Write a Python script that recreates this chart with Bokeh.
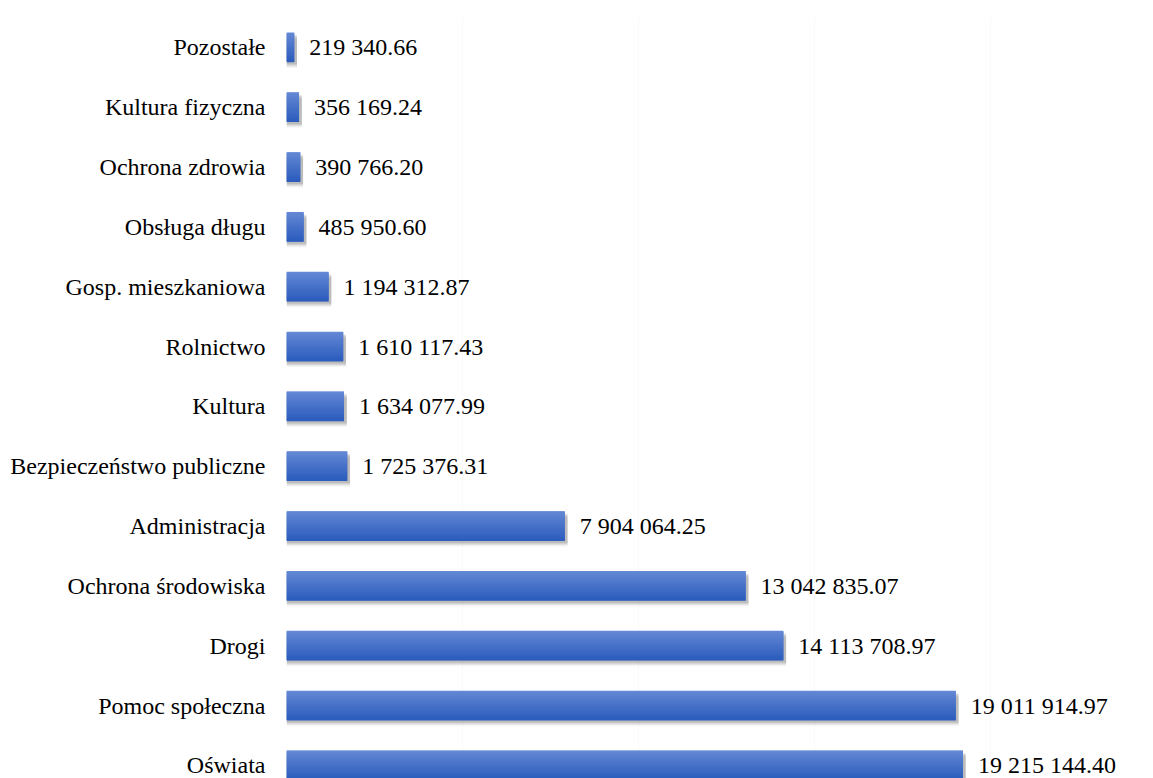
from bokeh.plotting import figure
from bokeh.models import Range1d, FixedTicker, ColumnDataSource
from bokeh.transform import dodge
from bokeh.embed import file_html
from bokeh.resources import INLINE
from bokeh.core.properties import value

categories = ["Pozostałe", "Kultura fizyczna", "Ochrona zdrowia", "Obsługa długu",
              "Gosp. mieszkaniowa", "Rolnictwo", "Kultura", "Bezpieczeństwo publiczne",
              "Administracja", "Ochrona środowiska", "Drogi", "Pomoc społeczna", "Oświata"]
values = [219340.66, 356169.24, 390766.20, 485950.60, 1194312.87, 1610117.43,
          1634077.99, 1725376.31, 7904064.25, 13042835.07, 14113708.97,
          19011914.97, 19215144.40]
labels = [f"{v:,.2f}".replace(",", " ") for v in values]
pos = list(range(len(categories)))

FONT = "Liberation Serif"
p = figure(width=1153, height=778, output_backend="svg", toolbar_location=None,
           x_range=Range1d(0, 24.63e6), y_range=Range1d(12.22, -0.5),
           min_border_left=286, min_border_right=0, min_border_top=17, min_border_bottom=0)
p.outline_line_color = None
p.background_fill_color = "white"

src = ColumnDataSource(dict(y=pos, v=values, lab=labels,
                            vs=[v + 80000 for v in values]))

# soft shadow
for off, a in [(0.04, 0.14), (0.06, 0.12), (0.08, 0.09), (0.10, 0.05)]:
    p.hbar(y=dodge("y", off, range=p.y_range), left=0, right="vs", height=0.485,
           source=src, fill_color="#404040", fill_alpha=a, line_color=None)

# gradient bar
H = 0.485
N = 24
top_c = (0x64, 0x88, 0xd5)
bot_c = (0x2c, 0x5d, 0xbd)
p.hbar(y="y", left=0, right="v", height=H, source=src,
       fill_color="#4470c8", line_color=None)
for k in range(N):
    t = k / (N - 1)
    c = tuple(int(top_c[j] + (bot_c[j] - top_c[j]) * t) for j in range(3))
    col = "#%02x%02x%02x" % c
    center = -H / 2 + H / N * (k + 0.5)
    p.hbar(y=dodge("y", center, range=p.y_range), left=0, right="v", height=H / N + 0.012,
           source=src, fill_color=col, line_color=None)

p.text(x="v", y="y", text="lab", source=src, x_offset=15, text_baseline="middle",
       text_align="left", text_font=value(FONT), text_font_size="24px", text_color="black")

p.xgrid.ticker = FixedTicker(ticks=[0, 5e6, 10e6, 15e6, 20e6])
p.xgrid.grid_line_color = "#f9f9f9"
p.ygrid.grid_line_color = None
p.xaxis.visible = False

ya = p.yaxis[0]
ya.ticker = FixedTicker(ticks=pos)
ya.major_label_overrides = {i: c for i, c in zip(pos, categories)}
ya.major_label_text_font = FONT
ya.major_label_text_font_size = "24px"
ya.major_label_text_color = "black"
ya.major_tick_line_color = None
ya.minor_tick_line_color = None
ya.axis_line_color = None
ya.major_label_standoff = 15

open("out.html", "w").write(file_html(p, INLINE))
